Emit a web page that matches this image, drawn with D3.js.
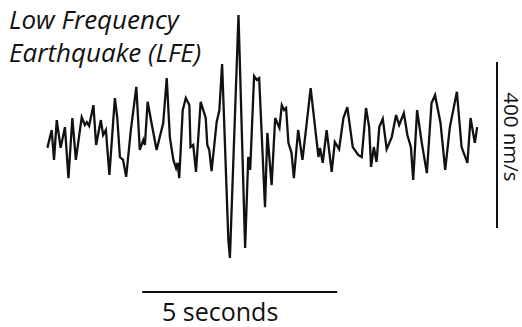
<!DOCTYPE html>
<html>
<head>
<title>LFE</title>
<script src="https://cdnjs.cloudflare.com/ajax/libs/d3/7.8.5/d3.min.js"></script>
<style>
body { margin:0; background:#fff; }
text { font-family:"Open Sans", "Noto Sans", sans-serif; fill:#111; }
</style>
</head>
<body>
<div id="chart"></div>
<script>
// time (s) and ground velocity (nm/s)
var times = [0.01,0.12,0.18,0.25,0.35,0.46,0.55,0.65,0.74,0.89,0.97,1.02,1.08,1.19,1.26,1.38,1.44,1.51,1.60,1.74,
    1.80,1.87,1.95,2.03,2.15,2.29,2.38,2.47,2.51,2.58,2.68,2.81,2.98,3.07,3.15,3.24,3.31,3.35,3.39,3.48,
    3.56,3.65,3.68,3.75,3.82,3.94,4.07,4.11,4.16,4.22,4.35,4.42,4.49,4.65,4.69,4.91,5.08,5.16,5.21,5.31,
    5.38,5.44,5.59,5.65,5.76,5.85,5.96,6.02,6.08,6.13,6.19,6.27,6.33,6.44,6.55,6.66,6.76,6.96,7.00,7.07,
    7.17,7.30,7.38,7.49,7.60,7.70,7.84,7.98,8.07,8.18,8.26,8.31,8.38,8.45,8.52,8.61,8.71,8.84,8.95,9.03,
    9.15,9.24,9.33,9.39,9.49,9.61,9.74,9.86,9.95,10.09,10.21,10.33,10.51,10.63,10.78,10.86,10.97,11.03];
var velocity = [-31,12,-60,36,-31,19,-104,41,-60,43,24,31,22,72,-24,36,0,12,-96,89,
    43,-53,-60,-101,12,116,-36,-12,-24,80,29,-36,29,137,-5,-60,-80,-67,-104,60,
    89,72,-29,-24,-89,80,41,-24,-36,-87,31,60,171,-253,-296,289,-272,-53,-84,142,
    133,137,-174,5,-121,41,17,72,60,65,-19,-43,-104,12,-60,29,113,-53,-31,-67,
    12,-89,-17,-34,41,67,-29,-48,-53,65,19,-77,-29,-65,19,39,-34,-5,48,24,
    53,0,-29,-108,60,-19,-92,77,96,29,-84,19,104,-29,-67,41,-19,19];

var titleLines = ["Low Frequency", "Earthquake (LFE)"];
var timeBar = [2.44, 7.44];      // 5 seconds
var ampBar = [-224, 176];        // 400 nm/s

var width = 522, height = 327;

var svg = d3.select('#chart').append('svg')
    .attr('width', width)
    .attr('height', height);

var x = d3.scaleLinear().domain([0, 5]).range([47, 242]);
var y = d3.scaleLinear().domain([0, 400]).range([135, -31]);

var line = d3.line()
    .x(function(d, i) { return x(times[i]); })
    .y(function(d) { return y(d); });

svg.append('path')
    .datum(velocity)
    .attr('d', line)
    .attr('fill', 'none')
    .attr('stroke', '#111')
    .attr('stroke-width', 2.3)
    .attr('stroke-linejoin', 'miter');

// title
svg.selectAll('.title')
    .data(titleLines)
    .enter().append('text')
    .attr('class', 'title')
    .attr('x', 9)
    .attr('y', function(d, i) { return 29 + i * 33; })
    .attr('font-size', 26)
    .attr('font-style', 'italic')
    .text(function(d) { return d; });

// time scale bar
svg.append('line')
    .attr('x1', x(timeBar[0])).attr('x2', x(timeBar[1]))
    .attr('y1', 292).attr('y2', 292)
    .attr('stroke', '#111').attr('stroke-width', 2);
svg.append('text')
    .attr('x', 162)
    .attr('y', 321)
    .attr('font-size', 25)
    .text('5 seconds');

// amplitude scale bar
svg.append('line')
    .attr('x1', 497).attr('x2', 497)
    .attr('y1', y(ampBar[0])).attr('y2', y(ampBar[1]))
    .attr('stroke', '#111').attr('stroke-width', 2);
svg.append('text')
    .attr('transform', 'translate(504,' + ((y(ampBar[0]) + y(ampBar[1])) / 2 - 8) + ') rotate(90)')
    .attr('text-anchor', 'middle')
    .attr('font-size', 20.5)
    .text('400 nm/s');
</script>
</body>
</html>
